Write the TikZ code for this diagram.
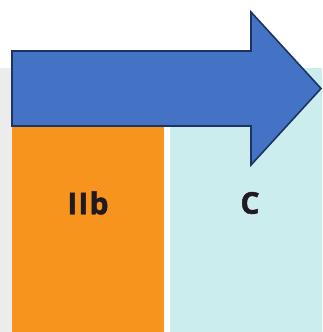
\documentclass[tikz,border=0pt]{standalone}
\usepackage{fontspec}
\setmainfont{Open Sans}
\newfontfamily\lblfont[FakeBold=1.6, LetterSpace=4]{Open Sans Bold}
\definecolor{grayband}{HTML}{ECECEC}
\definecolor{orangecol}{HTML}{F7941D}
\definecolor{cyancol}{HTML}{CCEDEE}
\definecolor{arrowfill}{HTML}{4472C4}
\definecolor{arrowline}{HTML}{1C3461}
\definecolor{lbltext}{HTML}{221A22}
\tikzset{
  colbox/.style={inner sep=0pt, outer sep=0pt, anchor=north west},
  lbl/.style={font=\lblfont\fontsize{30}{30}\selectfont, text=lbltext, inner sep=0pt},
  bigarrow/.style={fill=arrowfill, draw=arrowline, line width=1.6pt, line join=miter}
}
\begin{document}
\begin{tikzpicture}[x=1pt,y=-1pt]
\useasboundingbox (0,0) rectangle (322,332);
\fill[white] (0,0) rectangle (322,332);
\fill[grayband] (0,68) rectangle (12,332);
\node[colbox, fill=orangecol, minimum width=152pt, minimum height=264pt] (orange) at (12,68) {};
\node[colbox, fill=cyancol, minimum width=152pt, minimum height=264pt] (cyan) at (170,68) {};
\node[lbl] (iib) at (88,203) {IIb};
\node[lbl] (c) at (250,203) {C};
\draw[bigarrow] (12,51) -- (251,51) -- (251,12) -- (321,88.5) -- (251,165) -- (251,126) -- (12,126) -- cycle;
\end{tikzpicture}
\end{document}
